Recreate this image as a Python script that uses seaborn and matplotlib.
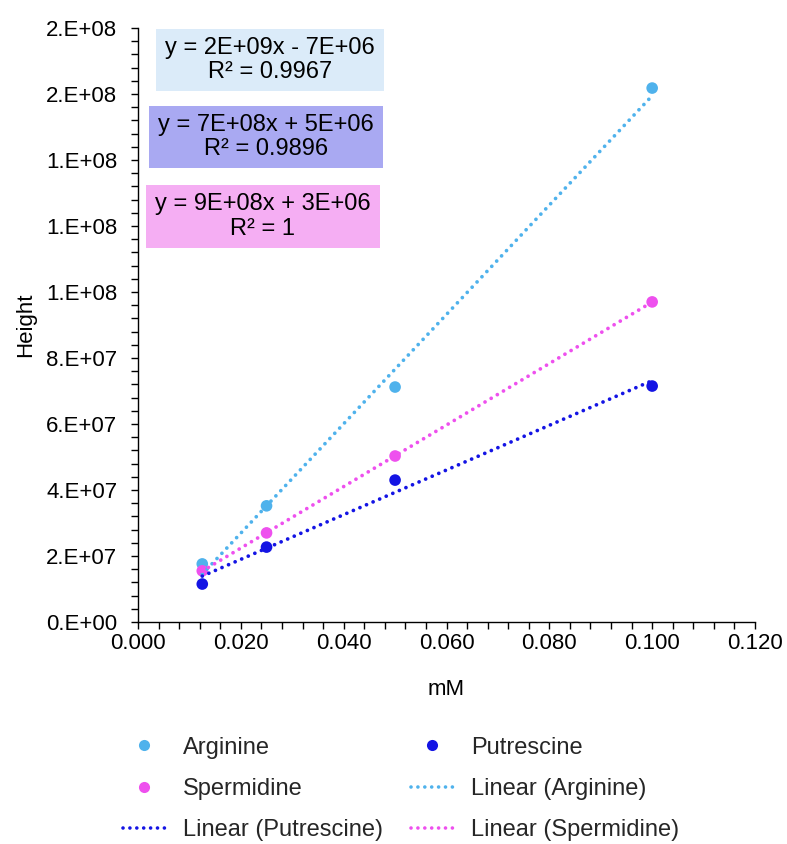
import numpy as np
import pandas as pd
import matplotlib
matplotlib.use("Agg")
import matplotlib.pyplot as plt
from matplotlib.lines import Line2D
from matplotlib.patches import Rectangle
from matplotlib.ticker import MultipleLocator, FixedLocator
import seaborn as sns

# ---------------- data ----------------
conc_mM = [0.0125, 0.025, 0.05, 0.1]
arginine = [1.76e7, 3.52e7, 7.12e7, 1.618e8]
spermidine = [1.55e7, 2.70e7, 5.03e7, 9.70e7]
putrescine = [1.15e7, 2.27e7, 4.30e7, 7.15e7]

series_names = ["Arginine", "Putrescine", "Spermidine"]
series_colors = {"Arginine": "#4fb2ec", "Putrescine": "#1414e4", "Spermidine": "#ee50ee"}

equations = [
    ("y = 2E+09x - 7E+06\nR² = 0.9967", "#dbebf9"),
    ("y = 7E+08x + 5E+06\nR² = 0.9896", "#a9a9f2"),
    ("y = 9E+08x + 3E+06\nR² = 1", "#f5aef3"),
]

ytick_values = [0, 2e7, 4e7, 6e7, 8e7, 1.0e8, 1.2e8, 1.4e8, 1.6e8, 1.8e8]
ytick_labels = ["0.E+00", "2.E+07", "4.E+07", "6.E+07", "8.E+07",
                "1.E+08", "1.E+08", "1.E+08", "2.E+08", "2.E+08"]
xtick_values = [0.0, 0.02, 0.04, 0.06, 0.08, 0.10, 0.12]
xtick_labels = ["0.000", "0.020", "0.040", "0.060", "0.080", "0.100", "0.120"]

df = pd.DataFrame({
    "mM": conc_mM * 3,
    "Height": arginine + putrescine + spermidine,
    "Compound": ["Arginine"] * 4 + ["Putrescine"] * 4 + ["Spermidine"] * 4,
})

# ---------------- figure ----------------
sns.set_theme(style="white")
plt.rcParams["font.family"] = ["Liberation Sans", "DejaVu Sans"]

W, H = 787, 844
fig = plt.figure(figsize=(W / 100, H / 100), dpi=100)
L, R, T, B = 138, 755, 28, 622
ax = fig.add_axes([L / W, 1 - B / H, (R - L) / W, (B - T) / H])

TICK_FS = 16
LAB_FS = 16
EQ_FS = 17
LEG_FS = 17

sns.scatterplot(data=df, x="mM", y="Height", hue="Compound",
                palette=series_colors, s=70, linewidth=0, legend=False,
                ax=ax, zorder=3)

dot_style = (0, (0.01, 1.9))
for name in series_names:
    sub = df[df["Compound"] == name]
    sns.regplot(data=sub, x="mM", y="Height", scatter=False, ci=None,
                truncate=True, ax=ax, color=series_colors[name],
                line_kws={"linestyle": dot_style, "linewidth": 2.7,
                          "dash_capstyle": "round", "zorder": 4})

ax.set_xlim(0, 0.12)
ax.set_ylim(0, 1.8e8)
ax.yaxis.set_major_locator(FixedLocator(ytick_values))
ax.set_yticklabels(ytick_labels)
ax.xaxis.set_major_locator(FixedLocator(xtick_values))
ax.set_xticklabels(xtick_labels)
ax.yaxis.set_minor_locator(MultipleLocator(4e6))
ax.xaxis.set_minor_locator(MultipleLocator(0.004))

for s in ["top", "right"]:
    ax.spines[s].set_visible(False)
for s in ["left", "bottom"]:
    ax.spines[s].set_color("black")
    ax.spines[s].set_linewidth(1.0)

ax.tick_params(axis="both", which="both", direction="out", length=5,
               width=1.0, color="black", labelsize=TICK_FS, labelcolor="black",
               bottom=True, left=True)
ax.tick_params(axis="y", which="major", pad=10)
ax.tick_params(axis="x", which="major", pad=3)

ax.set_xlabel("mM", fontsize=LAB_FS, color="black", labelpad=18)
ax.set_ylabel("Height", fontsize=LAB_FS, color="black", labelpad=7)
ax.grid(False)

# ---------------- equation boxes ----------------
boxes = [(156, 29, 384, 91), (149, 106, 383, 168), (146, 185, 380, 248)]
for (text, color), (x0, y0, x1, y1) in zip(equations, boxes):
    rect = Rectangle((x0 / W, 1 - y1 / H), (x1 - x0) / W, (y1 - y0) / H,
                     transform=fig.transFigure, facecolor=color,
                     edgecolor="none", zorder=1)
    fig.patches.append(rect)
    fig.text((x0 + x1) / 2 / W, 1 - (y0 + y1) / 2 / H, text,
             ha="center", va="center", fontsize=EQ_FS, color="black",
             linespacing=1.12, zorder=2)

# ---------------- legend ----------------
def mk(name):
    return Line2D([], [], linestyle="none", marker="o", markersize=8,
                  markerfacecolor=series_colors[name], markeredgewidth=0)

def ln(name):
    return Line2D([], [], color=series_colors[name], linestyle=dot_style,
                  linewidth=2.6, dash_capstyle="round")

handles = [mk("Arginine"), mk("Spermidine"), ln("Putrescine"),
           mk("Putrescine"), ln("Arginine"), ln("Spermidine")]
labels = ["Arginine", "Spermidine", "Linear (Putrescine)",
          "Putrescine", "Linear (Arginine)", "Linear (Spermidine)"]
fig.legend(handles, labels, ncol=2, loc="center",
           bbox_to_anchor=(401 / W, 1 - 789 / H), frameon=False,
           fontsize=LEG_FS, handlelength=1.8, handletextpad=0.75,
           columnspacing=1.15, labelspacing=0.82, borderpad=0)

fig.savefig("out.png", dpi=100)
